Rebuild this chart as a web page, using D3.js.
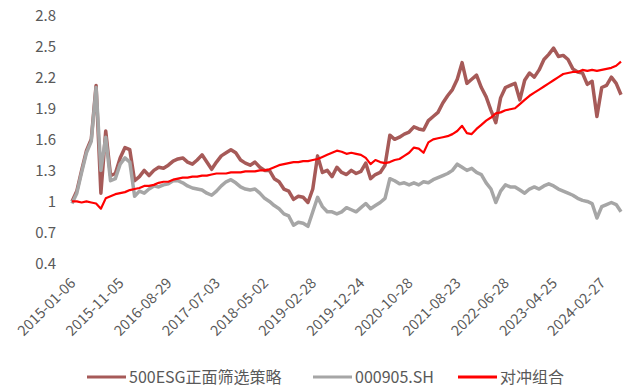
<!DOCTYPE html>
<html>
<head>
<meta charset="utf-8">
<script src="https://cdn.jsdelivr.net/npm/d3@7"></script>
<style>
  body { margin: 0; background: #fff; }
  text { font-family: "Noto Sans CJK SC", "Noto Sans", sans-serif; fill: #595959; }
</style>
</head>
<body>
<div id="chart"></div>
<script>
// tick labels on the category axis (one every 200 trading days)
var tickLabels = ["2015-01-06", "2015-11-05", "2016-08-29", "2017-07-03", "2018-05-02", "2019-02-28",
                  "2019-12-24", "2020-10-28", "2021-08-23", "2022-06-28", "2023-04-25", "2024-02-27"];
var yTicks = [0.4, 0.7, 1, 1.3, 1.6, 1.9, 2.2, 2.5, 2.8];

// series, sampled every 20 trading days
var esgVals = [1.0, 1.1, 1.3, 1.49, 1.6, 2.12, 1.08, 1.68, 1.25, 1.27,
  1.42, 1.52, 1.5, 1.2, 1.24, 1.3, 1.25, 1.3, 1.33, 1.32,
  1.35, 1.39, 1.41, 1.42, 1.38, 1.36, 1.4, 1.45, 1.38, 1.31,
  1.38, 1.44, 1.47, 1.5, 1.47, 1.4, 1.37, 1.35, 1.38, 1.33,
  1.3, 1.3, 1.22, 1.19, 1.12, 1.1, 1.02, 1.05, 1.04, 0.99,
  1.12, 1.44, 1.28, 1.3, 1.24, 1.33, 1.28, 1.26, 1.3, 1.27,
  1.29, 1.37, 1.22, 1.26, 1.28, 1.35, 1.64, 1.6, 1.62, 1.65,
  1.67, 1.72, 1.7, 1.69, 1.78, 1.82, 1.86, 1.95, 2.02, 2.08,
  2.18, 2.34, 2.14, 2.18, 2.22, 2.1, 2.01, 1.88, 1.76, 2.0,
  2.1, 2.12, 2.14, 1.98, 2.17, 2.24, 2.2, 2.27, 2.37, 2.42,
  2.48, 2.4, 2.41, 2.37, 2.28, 2.25, 2.24, 2.13, 2.16, 1.82,
  2.1, 2.12, 2.2, 2.14, 2.03];

var csiVals = [0.98, 1.08, 1.28, 1.47, 1.58, 2.1, 1.3, 1.62, 1.2, 1.22,
  1.36, 1.42, 1.38, 1.05, 1.1, 1.08, 1.12, 1.15, 1.14, 1.16,
  1.17, 1.2, 1.2, 1.18, 1.15, 1.13, 1.12, 1.11, 1.08, 1.06,
  1.1, 1.15, 1.19, 1.21, 1.18, 1.14, 1.12, 1.11, 1.12, 1.08,
  1.03, 1.0, 0.96, 0.93, 0.88, 0.86, 0.77, 0.8, 0.79, 0.76,
  0.9, 1.04, 0.95, 0.9, 0.9, 0.88, 0.9, 0.94, 0.92, 0.9,
  0.94, 0.98, 0.93, 0.96, 0.99, 1.03, 1.22, 1.2, 1.17, 1.18,
  1.16, 1.18, 1.16, 1.19, 1.18, 1.21, 1.23, 1.25, 1.27, 1.3,
  1.36, 1.33, 1.3, 1.32, 1.28, 1.26, 1.18, 1.12, 0.99, 1.1,
  1.16, 1.14, 1.14, 1.11, 1.08, 1.12, 1.14, 1.12, 1.15, 1.17,
  1.15, 1.12, 1.1, 1.08, 1.06, 1.03, 1.01, 1.0, 0.98, 0.84,
  0.95, 0.97, 0.99, 0.97, 0.9];

var hedgeVals = [1.0, 1.0, 0.99, 1.0, 0.99, 0.98, 0.93, 1.03, 1.05, 1.07,
  1.08, 1.09, 1.11, 1.12, 1.13, 1.15, 1.15, 1.16, 1.18, 1.19,
  1.19, 1.21, 1.22, 1.23, 1.23, 1.24, 1.24, 1.25, 1.25, 1.26,
  1.27, 1.27, 1.27, 1.28, 1.28, 1.28, 1.29, 1.29, 1.29, 1.3,
  1.3, 1.31, 1.33, 1.35, 1.36, 1.37, 1.38, 1.38, 1.39, 1.39,
  1.4, 1.41, 1.43, 1.45, 1.47, 1.49, 1.48, 1.46, 1.47, 1.46,
  1.45, 1.42, 1.36, 1.4, 1.38, 1.37, 1.38, 1.4, 1.41, 1.44,
  1.47, 1.52, 1.51, 1.47, 1.57, 1.6, 1.61, 1.62, 1.63, 1.65,
  1.68, 1.73, 1.66, 1.65, 1.7, 1.74, 1.78, 1.81, 1.85, 1.86,
  1.88, 1.89, 1.9, 1.94, 1.98, 2.02, 2.05, 2.08, 2.11, 2.14,
  2.17, 2.2, 2.23, 2.24, 2.25, 2.25, 2.27, 2.26, 2.27, 2.26,
  2.27, 2.28, 2.29, 2.31, 2.35];

var seriesNames = ["500ESG正面筛选策略", "000905.SH", "对冲组合"];
var step = 20;
var tickStep = 200;

var svgWidth = 633;
var svgHeight = 390;

var svg = d3.select("#chart")
            .append("svg")
            .attr("width", svgWidth)
            .attr("height", svgHeight);

var xScale = d3.scaleLinear()
               .domain([0, (esgVals.length - 1) * step])
               .range([72, 621]);

var yScale = d3.scaleLinear()
               .domain([0.4, 2.8])
               .range([263.6, 15]);

// y axis: labels only
var yAxis = d3.axisLeft(yScale)
              .tickValues(yTicks)
              .tickSize(0)
              .tickPadding(0)
              .tickFormat(d => String(d));

svg.append("g")
   .attr("transform", "translate(56, 0)")
   .call(yAxis)
   .call(g => g.select(".domain").remove())
   .selectAll("text")
   .attr("font-size", "15px")
   .attr("font-family", null)
   .attr("dy", "0.35em");

// x axis: rotated date labels
var xAxis = d3.axisBottom(xScale)
              .tickValues(tickLabels.map((d, i) => i * tickStep))
              .tickSize(0)
              .tickFormat((d, i) => tickLabels[i]);

var xg = svg.append("g")
            .attr("transform", "translate(0, 282)")
            .call(xAxis)
            .call(g => g.select(".domain").remove());

xg.selectAll("text")
  .attr("font-size", "14.5px")
  .attr("font-family", null)
  .attr("y", 0)
  .attr("dy", 0)
  .attr("x", 0)
  .attr("text-anchor", "end")
  .attr("transform", "translate(4, 2) rotate(-45)");

// lines
var line = d3.line()
             .x((d, i) => xScale(i * step))
             .y(d => yScale(d));

var series = [
  {name: seriesNames[0], values: esgVals, color: "#A65A58", width: 3.5},
  {name: seriesNames[1], values: csiVals, color: "#A6A6A6", width: 3.5},
  {name: seriesNames[2], values: hedgeVals, color: "#FF0000", width: 2.2}
];

svg.append("g")
   .selectAll("path")
   .data(series)
   .enter()
   .append("path")
   .attr("d", d => line(d.values))
   .attr("fill", "none")
   .attr("stroke", d => d.color)
   .attr("stroke-width", d => d.width)
   .attr("stroke-linejoin", "round");

// legend
var legendX = [87, 313, 458];
var legend = svg.append("g")
                .selectAll("g")
                .data(series)
                .enter()
                .append("g")
                .attr("transform", (d, i) => `translate(${legendX[i]}, 377)`);

legend.append("line")
      .attr("x1", 0)
      .attr("x2", 39)
      .attr("stroke", d => d.color)
      .attr("stroke-width", 3);

legend.append("text")
      .attr("x", 42)
      .attr("dy", "0.35em")
      .attr("font-size", "16px")
      .text(d => d.name);
</script>
</body>
</html>
